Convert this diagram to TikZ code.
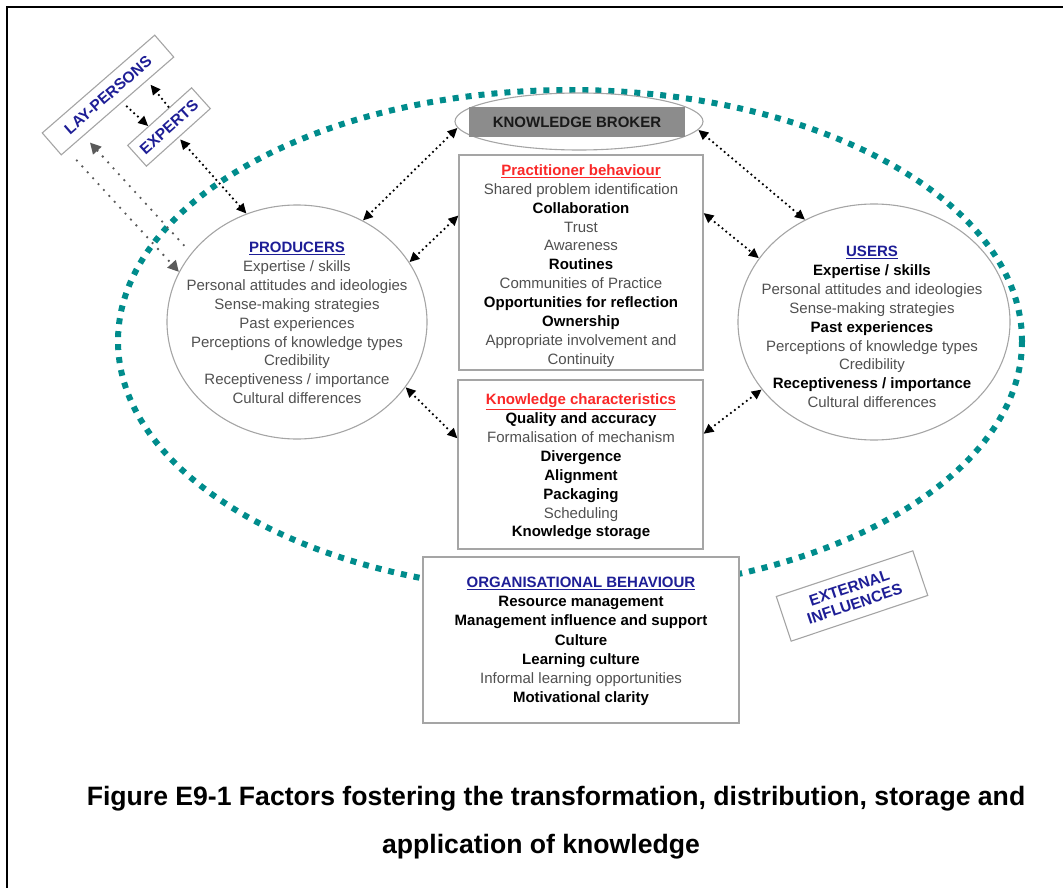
\documentclass[tikz,border=0pt]{standalone}
\usepackage{fontspec}
\setmainfont{Liberation Sans}
\usetikzlibrary{shapes.geometric,arrows.meta,calc}
\definecolor{tealdot}{RGB}{0,140,140}
\definecolor{boxgray}{RGB}{165,165,165}
\definecolor{txtgray}{RGB}{80,80,80}
\definecolor{titleblue}{RGB}{30,30,150}
\definecolor{titlered}{RGB}{250,40,40}
\definecolor{brokerfill}{RGB}{140,140,140}
\definecolor{arrgray}{RGB}{90,90,90}
\newcommand\ktb[1]{\textcolor{titleblue}{\underline{\textbf{#1}}}}
\newcommand\ktr[1]{\textcolor{titlered}{\underline{\textbf{#1}}}}
\newcommand\kb[1]{\textcolor{black}{\textbf{#1}}}
\begin{document}
\begin{tikzpicture}[x=1pt,y=-1pt,
  rectbox/.style={draw=boxgray,line width=1.1pt,fill=white,inner sep=0pt},
  circ/.style={ellipse,draw=boxgray,line width=1.1pt,inner sep=0pt},
  blk/.style={align=center,font=\fontsize{15}{18.9}\selectfont,text=txtgray},
  tagbox/.style={draw=boxgray,line width=1.1pt,fill=white,inner sep=0pt,text=titleblue,
     font=\fontsize{15.5}{17}\selectfont\bfseries,align=center},
  biarrow/.style={line width=2.5pt,dash pattern=on 0pt off 5pt,line cap=round,
     {Triangle[length=10pt,width=9pt]}-{Triangle[length=10pt,width=9pt]}},
  onearrow/.style={line width=2.5pt,dash pattern=on 0pt off 5pt,line cap=round,
     -{Triangle[length=10pt,width=9pt]}},
  grayarrow/.style={draw=arrgray,line width=2.6pt,dash pattern=on 0pt off 8pt,line cap=round,
     -{Triangle[length=11pt,width=11pt,fill=arrgray]}},
  captxt/.style={font=\fontsize{26.6}{30}\selectfont\bfseries}
]
\useasboundingbox (0,0) rectangle (1063,888);
% frame
\draw[line width=2.3pt] (7,888) -- (7,7) -- (1063,7);
% outer teal ellipse
\draw[tealdot,line width=6pt,dash pattern=on 6pt off 7pt] (570,341) ellipse [x radius=452,y radius=251];

% producers and users
\node[circ,minimum width=260pt,minimum height=234pt] (prod) at (297,322) {};
\node[blk] (prodtxt) at (297,323) {\ktb{PRODUCERS}\\ Expertise / skills\\ Personal attitudes and ideologies\\ Sense-making strategies\\ Past experiences\\ Perceptions of knowledge types\\ Credibility\\ Receptiveness / importance\\ Cultural differences};
\node[circ,minimum width=272pt,minimum height=236pt] (users) at (874,322) {};
\node[blk] (userstxt) at (872,327) {\ktb{USERS}\\ \kb{Expertise / skills}\\ Personal attitudes and ideologies\\ Sense-making strategies\\ \kb{Past experiences}\\ Perceptions of knowledge types\\ Credibility\\ \kb{Receptiveness / importance}\\ Cultural differences};

% knowledge broker
\node[circ,minimum width=248pt,minimum height=57pt] (brokerell) at (579,121.5) {};
\node[fill=brokerfill,minimum width=216pt,minimum height=30pt,inner sep=0pt,
      font=\fontsize{15}{17}\selectfont\bfseries,text=black!90] (broker) at (577,122) {KNOWLEDGE BROKER};

% practitioner behaviour
\node[rectbox,minimum width=244pt,minimum height=215pt] (prac) at (581,262.5) {};
\begin{scope}
\clip ([yshift=4pt]prac.south west) rectangle (prac.north east);
\node[blk] (practxt) at (581,266) {\ktr{Practitioner behaviour}\\ Shared problem identification\\ \kb{Collaboration}\\ Trust\\ Awareness\\ \kb{Routines}\\ Communities of Practice\\ \kb{Opportunities for reflection}\\ \kb{Ownership}\\ Appropriate involvement and\\ Continuity};
\end{scope}

% knowledge characteristics
\node[rectbox,minimum width=245pt,minimum height=169pt] (kc) at (580.5,464.5) {};
\node[blk] (kctxt) at (581,467) {\ktr{Knowledge characteristics}\\ \kb{Quality and accuracy}\\ Formalisation of mechanism\\ \kb{Divergence}\\ \kb{Alignment}\\ \kb{Packaging}\\ Scheduling\\ \kb{Knowledge storage}};

% organisational behaviour
\node[rectbox,minimum width=316pt,minimum height=166pt] (org) at (581,640) {};
\node[blk,font=\fontsize{15}{19.2}\selectfont] (orgtxt) at (581,641.5) {\ktb{ORGANISATIONAL BEHAVIOUR}\\ \kb{Resource management}\\ \kb{Management influence and support}\\ \kb{Culture}\\ \kb{Learning culture}\\ Informal learning opportunities\\ \kb{Motivational clarity}};

% tags
\node[tagbox,rotate=41,minimum width=149pt,minimum height=29pt] (lay) at (108,95) {LAY-PERSONS};
\node[tagbox,rotate=42,minimum width=86pt,minimum height=28pt] (experts) at (169,127) {EXPERTS};
\node[tagbox,rotate=18.5,minimum width=144pt,minimum height=47pt] (ext) at (852,596) {EXTERNAL\\INFLUENCES};

% connectors
\draw[onearrow,shorten <=6pt] ($(lay.south west)!0.54!(lay.south east)$) -- ($(experts.north west)!0.33!(experts.north east)$);
\draw[onearrow,shorten <=1pt,shorten >=5pt] ($(experts.north west)!0.65!(experts.north east)$) -- ($(lay.south west)!0.76!(lay.south east)$);
\draw[biarrow,shorten <=2pt] (experts.south) -- (prod.115.5);
\draw[grayarrow,shorten <=14pt] ($(lay.south west)!0.055!(lay.south east)$) -- (prod.157);
\draw[grayarrow,shorten <=11pt,shorten >=9pt] (prod.147) -- ($(lay.south west)!0.2!(lay.south east)$);
\draw[biarrow] (brokerell.183) -- (prod.57);
\draw[biarrow] (brokerell.-4) -- (users.124.3);
\draw[biarrow] (prac.159) -- (prod.28.4);
\draw[biarrow] (prac.22.6) -- (users.151.8);
\draw[biarrow] (kc.168) -- (prod.-31.9);
\draw[biarrow] (kc.14.2) -- (users.211.3);

% caption
\node[captxt] (cap1) at (556,799) {Figure E9-1 Factors fostering the transformation, distribution, storage and};
\node[captxt] (cap2) at (541,847) {application of knowledge};
\end{tikzpicture}
\end{document}
